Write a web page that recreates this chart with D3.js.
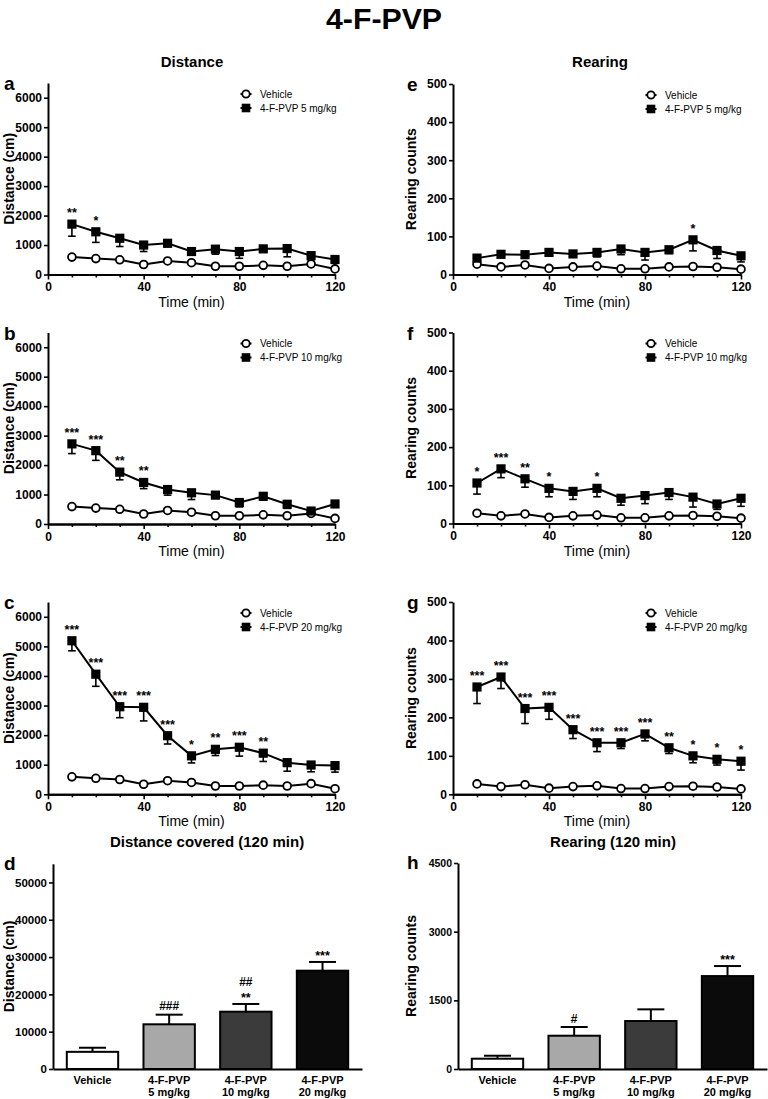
<!DOCTYPE html>
<html><head><meta charset="utf-8">
<script src="https://cdn.jsdelivr.net/npm/d3@7"></script>
<style>
body{margin:0;background:#fff;}
text{font-family:"Liberation Sans", Arial, Helvetica, sans-serif;fill:#000;}
</style></head><body>
<svg id="chart" width="768" height="1099"></svg>
<script>
// ---------- data ----------
const times = [10,20,30,40,50,60,70,80,90,100,110,120];
const xTickMajor = [0,40,80,120];
const distTicks = [0,1000,2000,3000,4000,5000,6000];
const rearTicks = [0,100,200,300,400,500];

const vehDist   = [590,540,500,340,460,400,280,280,310,280,360,190];
const vehDistLo = [530,470,440,280,400,340,230,220,250,220,300,150];

const dist5    = [1710,1450,1230,1000,1060,780,860,780,870,880,640,510];
const dist5Lo  = [1300,1090,950,780,950,680,690,550,780,600,500,380];
const stars5   = ["**","*","","","","","","","","","",""];

const dist10   = [2720,2490,1760,1410,1170,1060,980,730,940,670,440,680];
const dist10Lo = [2390,2160,1500,1200,980,830,920,580,810,530,360,580];
const stars10  = ["***","***","**","**","","","","","","","",""];

const dist20   = [5190,4060,2960,2940,1980,1300,1520,1590,1390,1070,990,970];
const dist20Lo = [4850,3650,2590,2480,1700,1060,1310,1290,1110,780,760,750];
const stars20  = ["***","***","***","***","***","*","**","***","**","","",""];

const vehRear   = [27,20,25,16,20,22,15,15,20,21,19,14];
const vehRearLo = [24,17,22,13,17,19,12,12,17,15,16,11];

const rear5    = [43,53,52,58,54,58,67,58,65,91,63,49];
const rear5Lo  = [37,45,43,50,46,46,52,38,55,62,42,33];
const starsR5  = ["","","","","","","","","","*","",""];

const rear10   = [106,143,117,92,84,92,66,73,81,69,51,66];
const rear10Lo = [77,120,95,70,63,70,48,52,63,43,37,45];
const starsR10 = ["*","***","**","*","","*","","","","","",""];

const rear20   = [279,305,223,226,168,134,134,157,121,100,91,86];
const rear20Lo = [236,275,184,195,145,111,119,139,106,82,76,63];
const starsR20 = ["***","***","***","***","***","***","***","***","**","*","*","*"];

const barCats = [["Vehicle"],["4-F-PVP","5 mg/kg"],["4-F-PVP","10 mg/kg"],["4-F-PVP","20 mg/kg"]];
const barColors = ["#ffffff","#a8a8a8","#3b3b3b","#0b0b0b"];
const distTotal    = [4600,11980,15360,26350];
const distTotalErr = [5700,14560,17430,28690];
const distAnnot    = [[],["###"],["**","##"],["***"]];
const distTotTicks = [0,10000,20000,30000,40000,50000];

const rearTotal    = [225,727,1048,2030];
const rearTotalErr = [290,917,1303,2249];
const rearAnnot    = [[],["#"],[],["***"]];
const rearTotTicks = [0,1500,3000,4500];

// ---------- drawing ----------
const svg = d3.select("#chart");

function styleAxis(sel, fs){
  sel.select(".domain").attr("stroke","#000").attr("stroke-width",2);
  sel.selectAll(".tick line").attr("stroke","#000").attr("stroke-width",1.6);
  sel.selectAll(".tick text").attr("font-size",fs).attr("font-weight","bold")
     .attr("font-family","'Liberation Sans', Arial, sans-serif").attr("fill","#000");
}

function linePanel(o){
  const g = svg.append("g");
  const x = d3.scaleLinear().domain([0,120]).range([o.x0,o.x1]);
  const y = d3.scaleLinear().domain([0,o.yMax]).range([o.yb,o.yt]);

  const minor = g.append("g").attr("transform",`translate(0,${o.yb})`)
    .call(d3.axisBottom(x).tickValues(times.filter(t=>t%40!==0)).tickSize(3).tickSizeOuter(0).tickFormat(""));
  styleAxis(minor, 11);
  const xa = g.append("g").attr("transform",`translate(0,${o.yb})`)
    .call(d3.axisBottom(x).tickValues(xTickMajor).tickSize(5).tickSizeOuter(0).tickPadding(3).tickFormat(d3.format("d")));
  styleAxis(xa, 12);
  const ya = g.append("g").attr("transform",`translate(${o.x0},0)`)
    .call(d3.axisLeft(y).tickValues(o.yTicks).tickSize(4).tickSizeOuter(0).tickPadding(2).tickFormat(d3.format("d")));
  styleAxis(ya, 12);

  g.append("text").attr("x",(o.x0+o.x1)/2).attr("y",o.yb+32).attr("text-anchor","middle")
    .attr("font-size",14).text("Time (min)");
  g.append("text").attr("transform",`translate(${o.ylx},${(o.yb+o.yt)/2}) rotate(-90)`)
    .attr("text-anchor","middle").attr("font-size",14).attr("font-weight","bold").text(o.ylabel);
  g.append("text").attr("x",o.lx).attr("y",o.yt+7).attr("font-size",19).attr("font-weight","bold").text(o.letter);

  const line = d3.line().x((d,i)=>x(times[i])).y(d=>y(d));
  function series(vals, lo, square){
    const s = g.append("g");
    s.append("path").datum(vals).attr("d",line).attr("fill","none").attr("stroke","#000").attr("stroke-width",2);
    vals.forEach((v,i)=>{
      const cx = x(times[i]);
      s.append("line").attr("x1",cx).attr("x2",cx).attr("y1",y(v)).attr("y2",y(lo[i]))
        .attr("stroke","#000").attr("stroke-width",1.6);
      s.append("line").attr("x1",cx-3.8).attr("x2",cx+3.8).attr("y1",y(lo[i])).attr("y2",y(lo[i]))
        .attr("stroke","#000").attr("stroke-width",1.6);
    });
    vals.forEach((v,i)=>{
      const cx = x(times[i]);
      if(square) s.append("rect").attr("x",cx-4.6).attr("y",y(v)-4.6).attr("width",9.2).attr("height",9.2).attr("fill","#000");
      else s.append("circle").attr("cx",cx).attr("cy",y(v)).attr("r",3.9).attr("fill","#fff").attr("stroke","#000").attr("stroke-width",1.8);
    });
  }
  series(o.veh, o.vehLo, false);
  series(o.drug, o.drugLo, true);
  o.stars.forEach((s,i)=>{
    if(!s) return;
    g.append("text").attr("x",x(times[i])).attr("y",y(o.drug[i])-7).attr("text-anchor","middle")
      .attr("font-size",12.5).attr("font-weight","bold").text(s);
  });

  const lx = o.x0+198, ly1 = o.yt+11, ly2 = o.yt+25;
  g.append("line").attr("x1",lx-5.5).attr("x2",lx+5.5).attr("y1",ly1).attr("y2",ly1).attr("stroke","#000").attr("stroke-width",2);
  g.append("circle").attr("cx",lx).attr("cy",ly1).attr("r",3.7).attr("fill","#fff").attr("stroke","#000").attr("stroke-width",1.8);
  g.append("line").attr("x1",lx-5.5).attr("x2",lx+5.5).attr("y1",ly2).attr("y2",ly2).attr("stroke","#000").attr("stroke-width",2);
  g.append("rect").attr("x",lx-4.3).attr("y",ly2-4.3).attr("width",8.6).attr("height",8.6).attr("fill","#000");
  g.append("text").attr("x",lx+14).attr("y",ly1+3.5).attr("font-size",10).text("Vehicle");
  g.append("text").attr("x",lx+14).attr("y",ly2+3.5).attr("font-size",10).text(o.legend);
}

function barPanel(o){
  const g = svg.append("g");
  const x = d3.scaleBand().domain(d3.range(barCats.length)).range([o.x0,o.x1]).paddingInner(0.33).paddingOuter(0.18);
  const y = d3.scaleLinear().domain([0,o.yMax]).range([o.yb,o.yt]);
  const bw = x.bandwidth();
  o.vals.forEach((v,i)=>{
    const cx = x(i)+bw/2;
    g.append("line").attr("x1",cx).attr("x2",cx).attr("y1",y(v)).attr("y2",y(o.err[i])).attr("stroke","#000").attr("stroke-width",2);
    g.append("line").attr("x1",cx-13.5).attr("x2",cx+13.5).attr("y1",y(o.err[i])).attr("y2",y(o.err[i])).attr("stroke","#000").attr("stroke-width",2);
    g.append("rect").attr("x",x(i)).attr("y",y(v)).attr("width",bw).attr("height",y(0)-y(v))
      .attr("fill",barColors[i]).attr("stroke","#000").attr("stroke-width",2);
    let c = y(o.err[i]) - 9;
    o.annot[i].forEach(lbl=>{
      const star = lbl.indexOf("*")>=0;
      g.append("text").attr("x",cx).attr("y",c+(star?7:4.5)).attr("text-anchor","middle")
        .attr("font-size",star?12.5:12).attr("font-weight","bold").text(lbl);
      c -= 13;
    });
    const t = g.append("text").attr("x",cx).attr("y",o.yb+14.5).attr("text-anchor","middle")
      .attr("font-size",11).attr("font-weight","bold");
    barCats[i].forEach((s,k)=>t.append("tspan").attr("x",cx).attr("dy",k?12.5:0).text(s));
  });
  const xa = g.append("g").attr("transform",`translate(0,${o.yb})`)
    .call(d3.axisBottom(x).tickSize(0).tickFormat(""));
  styleAxis(xa, 10);
  const ya = g.append("g").attr("transform",`translate(${o.x0},0)`)
    .call(d3.axisLeft(y).tickValues(o.ticks).tickSize(4).tickSizeOuter(0).tickPadding(2).tickFormat(d3.format("d")));
  styleAxis(ya, o.tfs);
  g.append("text").attr("transform",`translate(${o.ylx},${(o.yb+o.yt)/2}) rotate(-90)`)
    .attr("text-anchor","middle").attr("font-size",14).attr("font-weight","bold").text(o.ylabel);
  g.append("text").attr("x",o.lx).attr("y",o.yt+6).attr("font-size",19).attr("font-weight","bold").text(o.letter);
}

// titles
svg.append("text").attr("x",384).attr("y",29).attr("text-anchor","middle").attr("font-size",30)
  .attr("font-weight","bold").attr("textLength",116).attr("lengthAdjust","spacingAndGlyphs").text("4-F-PVP");
svg.append("text").attr("x",192).attr("y",67).attr("text-anchor","middle").attr("font-size",15).attr("font-weight","bold").text("Distance");
svg.append("text").attr("x",600).attr("y",67).attr("text-anchor","middle").attr("font-size",15).attr("font-weight","bold").text("Rearing");
svg.append("text").attr("x",207).attr("y",847).attr("text-anchor","middle").attr("font-size",15).attr("font-weight","bold").text("Distance covered (120 min)");
svg.append("text").attr("x",613).attr("y",847).attr("text-anchor","middle").attr("font-size",15).attr("font-weight","bold").text("Rearing (120 min)");

const L = {x0:48, x1:335, ylx:14, lx:4, yMax:6500, yTicks:distTicks, ylabel:"Distance (cm)", veh:vehDist, vehLo:vehDistLo};
const R = {x0:453, x1:741, ylx:416, lx:407, yMax:500, yTicks:rearTicks, ylabel:"Rearing counts", veh:vehRear, vehLo:vehRearLo};

linePanel(Object.assign({},L,{yb:274.5,yt:83,letter:"a",drug:dist5,drugLo:dist5Lo,stars:stars5,legend:"4-F-PVP 5 mg/kg"}));
linePanel(Object.assign({},L,{yb:524,yt:332.5,letter:"b",drug:dist10,drugLo:dist10Lo,stars:stars10,legend:"4-F-PVP 10 mg/kg"}));
linePanel(Object.assign({},L,{yb:794.3,yt:602,letter:"c",drug:dist20,drugLo:dist20Lo,stars:stars20,legend:"4-F-PVP 20 mg/kg"}));
linePanel(Object.assign({},R,{yb:274.5,yt:84,letter:"e",drug:rear5,drugLo:rear5Lo,stars:starsR5,legend:"4-F-PVP 5 mg/kg"}));
linePanel(Object.assign({},R,{yb:523.5,yt:332.5,letter:"f",drug:rear10,drugLo:rear10Lo,stars:starsR10,legend:"4-F-PVP 10 mg/kg"}));
linePanel(Object.assign({},R,{yb:794.3,yt:602,letter:"g",drug:rear20,drugLo:rear20Lo,stars:starsR20,legend:"4-F-PVP 20 mg/kg"}));

barPanel({x0:53,x1:362,yb:1069,yt:863.8,yMax:55000,ticks:distTotTicks,tfs:11.5,vals:distTotal,err:distTotalErr,annot:distAnnot,ylabel:"Distance (cm)",ylx:14,lx:4,letter:"d"});
barPanel({x0:458,x1:767,yb:1069,yt:863,yMax:4500,ticks:rearTotTicks,tfs:10.5,vals:rearTotal,err:rearTotalErr,annot:rearAnnot,ylabel:"Rearing counts",ylx:416,lx:407,letter:"h"});
</script>
</body></html>
